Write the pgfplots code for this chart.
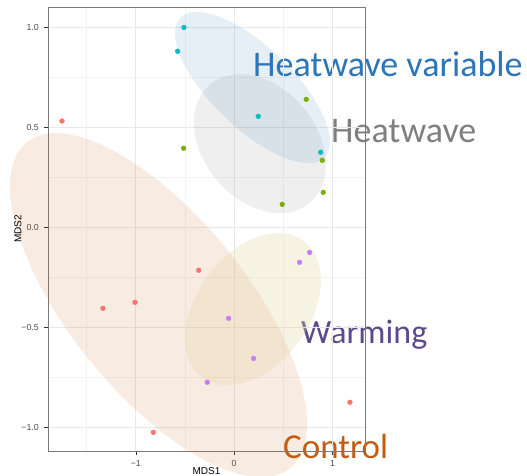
\documentclass[border=0pt]{standalone}
\usepackage{pgfplots}
\pgfplotsset{compat=1.18}
\usepackage{fontspec}
\setmainfont{Liberation Sans}
\newfontfamily\calib{Carlito}

% point colours
\definecolor{ctrl}{HTML}{F8766D}
\definecolor{heat}{HTML}{7CAE00}
\definecolor{heatvar}{HTML}{00BFC4}
\definecolor{warm}{HTML}{C77CFF}
% group label / ellipse colours
\definecolor{ctrltxt}{HTML}{C55A11}
\definecolor{heatvartxt}{HTML}{2E75B6}
\definecolor{heattxt}{HTML}{7F7F7F}
\definecolor{warmtxt}{HTML}{5C4A8C}
\definecolor{warmfill}{RGB}{228,214,160}
\definecolor{gridmaj}{RGB}{232,232,232}
\definecolor{gridmin}{RGB}{243,243,243}
\definecolor{axisgray}{HTML}{7A7A7A}
\definecolor{tickgray}{HTML}{333333}
\definecolor{labgray}{HTML}{4D4D4D}

\begin{document}
\begin{tikzpicture}
\path[use as bounding box] (0pt,0pt) rectangle (527pt,475pt);

% group names
\node[anchor=base west, inner sep=0pt, text=heatvartxt, font=\calib\fontsize{36}{40}\selectfont] at (253pt,398pt) {Heatwave variable};
\node[anchor=base west, inner sep=0pt, text=heattxt, font=\calib\fontsize{36}{40}\selectfont] at (331pt,333pt) {Heatwave};
\node[anchor=base west, inner sep=0pt, text=warmtxt, font=\calib\fontsize{34}{38}\selectfont] at (301pt,132pt) {Warming};
\node[anchor=base west, inner sep=0pt, text=ctrltxt, font=\calib\fontsize{35}{39}\selectfont] at (283pt,17pt) {Control};

\begin{axis}[
  at={(48pt,24pt)}, anchor=south west,
  width=317pt, height=444pt, scale only axis,
  xmin=-1.894, xmax=1.331, ymin=-1.116, ymax=1.100,
  clip=false,
  xtick={-1,0,1}, xticklabels={−1,0,1},
  ytick={-1,-0.5,0,0.5,1}, yticklabels={−1.0,−0.5,0.0,0.5,1.0},
  minor xtick={-1.5,-0.5,0.5}, minor ytick={-0.75,-0.25,0.25,0.75},
  grid=both,
  major grid style={draw=gridmaj, line width=1pt},
  minor grid style={draw=gridmin, line width=0.6pt},
  tick align=outside, major tick length=4pt, minor tick length=0pt,
  tick pos=left,
  tick style={draw=tickgray, line width=0.6pt},
  axis line style={draw=axisgray, line width=0.8pt},
  ticklabel style={font=\fontsize{8.8}{10}\selectfont, text=labgray},
  xticklabel style={anchor=north, inner sep=0pt, yshift=-5pt},
  yticklabel style={anchor=east, inner sep=0pt, xshift=-5pt},
  xlabel={MDS1}, ylabel={MDS2},
  label style={font=\fontsize{10}{12}\selectfont},
  xlabel style={at={(axis description cs:0.5,-0.046)}, anchor=center},
  ylabel style={at={(axis description cs:-0.0946,0.5)}, anchor=center},
  every axis plot/.append style={only marks, mark=*, mark size=2.4pt},
]

% confidence ellipses of the four groups
\fill[ctrltxt, fill opacity=0.12, rotate around={-51:(axis cs:-0.770,-0.388)}]
  (axis cs:-0.770,-0.388) ellipse [x radius=209.4pt, y radius=88.2pt];
\fill[warmfill, fill opacity=0.3, rotate around={53.2:(axis cs:0.191,-0.408)}]
  (axis cs:0.191,-0.408) ellipse [x radius=85pt, y radius=56.3pt];
\fill[heattxt, fill opacity=0.12, rotate around={-49.8:(axis cs:0.2625,0.418)}]
  (axis cs:0.2625,0.418) ellipse [x radius=77.5pt, y radius=56.4pt];
\fill[heatvartxt, fill opacity=0.12, rotate around={-44:(axis cs:0.186,0.698)}]
  (axis cs:0.186,0.698) ellipse [x radius=100.3pt, y radius=40.5pt];

% Control
\addplot[color=ctrl, mark options={fill=ctrl}]
  coordinates {(-1.752,0.531) (-1.335,-0.404) (-1.009,-0.374) (-0.823,-1.023) (-0.361,-0.214) (1.178,-0.873)};
% Heatwave variable
\addplot[color=heatvar, mark options={fill=heatvar}]
  coordinates {(-0.511,0.998) (-0.575,0.879) (0.245,0.554) (0.880,0.375)};
% Heatwave
\addplot[color=heat, mark options={fill=heat}]
  coordinates {(-0.514,0.395) (0.733,0.639) (0.896,0.335) (0.906,0.175) (0.489,0.115)};
% Warming
\addplot[color=warm, mark options={fill=warm}]
  coordinates {(0.768,-0.125) (0.666,-0.174) (-0.056,-0.454) (0.198,-0.654) (-0.274,-0.773)};
\end{axis}
\end{tikzpicture}
\end{document}
